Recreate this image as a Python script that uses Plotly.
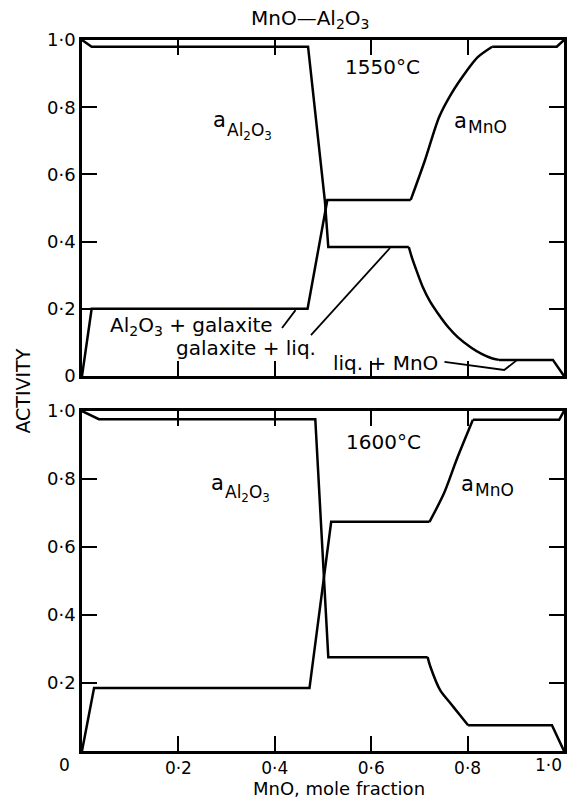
import plotly.graph_objects as go

# ---------------- data ----------------
# 1550 °C panel
x_al2o3_1550 = [0.0, 0.02, 0.469, 0.504, 0.511, 0.678, 0.685, 0.695, 0.707, 0.722, 0.740, 0.760, 0.780, 0.807, 0.830, 0.850, 0.865, 0.977, 1.0]
y_al2o3_1550 = [1.0, 0.98, 0.98, 0.52, 0.384, 0.384, 0.350, 0.310, 0.265, 0.222, 0.183, 0.145, 0.115, 0.085, 0.065, 0.053, 0.048, 0.048, 0.0]
x_mno_1550 = [0.0, 0.02, 0.468, 0.509, 0.682, 0.711, 0.741, 0.767, 0.795, 0.821, 0.851, 0.985, 1.0]
y_mno_1550 = [0.0, 0.20, 0.20, 0.524, 0.524, 0.64, 0.771, 0.842, 0.902, 0.949, 0.98, 0.98, 1.0]

# 1600 °C panel
x_al2o3_1600 = [0.0, 0.035, 0.484, 0.511, 0.717, 0.723, 0.743, 0.764, 0.784, 0.801, 0.975, 1.0]
y_al2o3_1600 = [1.0, 0.976, 0.976, 0.276, 0.276, 0.247, 0.179, 0.141, 0.106, 0.076, 0.076, 0.0]
x_mno_1600 = [0.0, 0.025, 0.472, 0.517, 0.721, 0.751, 0.777, 0.811, 0.99, 1.0]
y_mno_1600 = [0.0, 0.185, 0.185, 0.674, 0.674, 0.758, 0.856, 0.974, 0.974, 1.0]

tick_vals = [0.0, 0.2, 0.4, 0.6, 0.8, 1.0]
y_tick_text_top = ["0", "0·2", "0·4", "0·6", "0·8", "1·0"]
y_tick_text_bottom = ["", "0·2", "0·4", "0·6", "0·8", "1·0"]
x_tick_text = ["", "0·2", "0·4", "0·6", "0·8", ""]

# leader lines of the phase-field labels (1550 °C panel)
leader_al2o3_gal = [(0.415, 0.143), (0.443, 0.196)]
leader_gal_liq = [(0.475, 0.122), (0.639, 0.381)]
leader_liq_mno = [(0.752, 0.042), (0.876, 0.018), (0.903, 0.048)]

FONT = "DejaVu Sans"
LW = 2.5

fig = go.Figure()


def add_curve(xs, ys, curved, xa, ya):
    """Draw a curve: straight segments, with the curved stretch (index range) smoothed."""
    i, j = curved
    parts = [(xs[:i + 1], ys[:i + 1], "linear"),
             (xs[i:j + 1], ys[i:j + 1], "spline"),
             (xs[j:], ys[j:], "linear")]
    for px, py, shape in parts:
        fig.add_trace(go.Scatter(x=px, y=py, mode="lines",
                                 line=dict(color="black", width=LW, shape=shape, smoothing=0.8),
                                 xaxis=xa, yaxis=ya, showlegend=False, hoverinfo="skip"))


add_curve(x_al2o3_1550, y_al2o3_1550, (5, 16), "x", "y")
add_curve(x_mno_1550, y_mno_1550, (4, 10), "x", "y")
add_curve(x_al2o3_1600, y_al2o3_1600, (4, 9), "x2", "y2")
add_curve(x_mno_1600, y_mno_1600, (4, 7), "x2", "y2")

tickfont = dict(family=FONT, size=18, color="black")
common = dict(range=[0, 1], tickvals=tick_vals, ticks="inside", ticklen=15, tickwidth=2,
              tickcolor="black", showline=True, linewidth=LW, linecolor="black",
              mirror="ticks", showgrid=False, zeroline=False, tickfont=tickfont,
              fixedrange=True)

fig.update_layout(
    width=575, height=800,
    margin=dict(l=82, r=8, t=40, b=49),
    paper_bgcolor="white", plot_bgcolor="white",
    xaxis=dict(domain=[0, 1], anchor="y", showticklabels=False, **common),
    yaxis=dict(domain=[0.5274, 1], anchor="x", ticktext=y_tick_text_top, **common),
    xaxis2=dict(domain=[0, 1], anchor="y2", ticktext=x_tick_text, **common),
    yaxis2=dict(domain=[0, 0.4782], anchor="x2", ticktext=y_tick_text_bottom, **common),
)
fig.update_xaxes(tickfont=dict(family=FONT, size=17, color="black"), selector=dict(anchor="y2"))


def path_from(points, xr, yr):
    d = "M " + " L ".join(f"{x},{y}" for x, y in points)
    return dict(type="path", path=d, xref=xr, yref=yr,
                line=dict(color="black", width=1.8))


fig.update_layout(shapes=[
    path_from(leader_al2o3_gal, "x", "y"),
    path_from(leader_gal_liq, "x", "y"),
    path_from(leader_liq_mno, "x", "y"),
])


def ann(text, x, y, xref, yref, size, xanchor="center", yanchor="middle", **kw):
    return dict(text=text, x=x, y=y, xref=xref, yref=yref, showarrow=False,
                xanchor=xanchor, yanchor=yanchor,
                font=dict(family=FONT, size=size, color="black"), **kw)


annotations = [
    ann("MnO—Al<sub>2</sub>O<sub>3</sub>", 0.474, 1.030, "paper", "paper", 20),
    ann("1550°C", 0.623, 0.92, "x", "y", 20),
    # a with subscript Al2O3 / MnO (1550 °C)
    ann("a", 0.285, 0.762, "x", "y", 21),
    ann("Al<sub>2</sub>O<sub>3</sub>", 0.297, 0.728, "x", "y", 17, xanchor="left"),
    ann("a", 0.785, 0.760, "x", "y", 21),
    ann("MnO", 0.797, 0.740, "x", "y", 17, xanchor="left"),
    ann("Al<sub>2</sub>O<sub>3</sub> + galaxite", 0.227, 0.150, "x", "y", 20),
    ann("galaxite + liq.", 0.341, 0.084, "x", "y", 20),
    ann("liq. + MnO", 0.63, 0.038, "x", "y", 20),
    ann("1600°C", 0.626, 0.909, "x2", "y2", 20),
    ann("a", 0.281, 0.788, "x2", "y2", 21),
    ann("Al<sub>2</sub>O<sub>3</sub>", 0.293, 0.758, "x2", "y2", 17, xanchor="left"),
    ann("a", 0.799, 0.785, "x2", "y2", 21),
    ann("MnO", 0.811, 0.767, "x2", "y2", 17, xanchor="left"),
    ann("0", 0.0, 0.0, "x2", "y2", 17, xanchor="center", yanchor="top", xshift=-18, yshift=-2),
    ann("1·0", 1.0, 0.0, "x2", "y2", 17, xanchor="right", yanchor="top", yshift=-2),
    ann("MnO, mole fraction", 0.534, -0.0525, "paper", "paper", 18),
    ann("ACTIVITY", -0.1216, 0.506, "paper", "paper", 19, textangle=-90),
]
fig.update_layout(annotations=annotations)

fig.write_html("out.html")
